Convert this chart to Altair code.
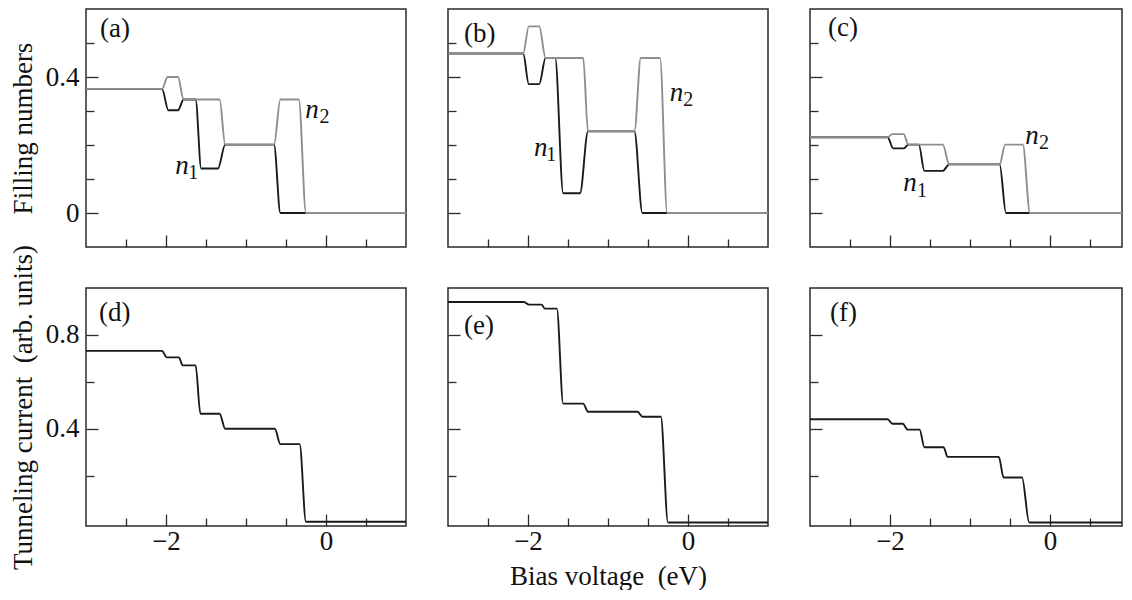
import altair as alt
import pandas as pd

FONT = "Liberation Serif"
BLACK = "#1a1a1a"
GRAY = "#8e8e8e"
FRAME = "#2a2a2a"

# ---- data (corner points of each stepped curve) ----
# panel (a)
XA_N1 = [-3, -2.05, -1.97, -1.85, -1.78, -1.63, -1.56, -1.35, -1.26, -0.65, -0.57, 1]
YA_N1 = [0.365, 0.365, 0.302, 0.302, 0.334, 0.334, 0.131, 0.131, 0.201, 0.201, 0.0, 0.0]
XA_N2 = [-3, -2.05, -1.98, -1.85, -1.78, -1.33, -1.26, -0.65, -0.57, -0.34, -0.25, 1]
YA_N2 = [0.365, 0.365, 0.400, 0.400, 0.334, 0.334, 0.201, 0.201, 0.334, 0.334, 0.0, 0.0]
# panel (b)
XB_N1 = [-3, -2.06, -1.99, -1.86, -1.78, -1.66, -1.56, -1.35, -1.25, -0.67, -0.57, 1]
YB_N1 = [0.469, 0.469, 0.379, 0.379, 0.456, 0.456, 0.058, 0.058, 0.240, 0.240, 0.0, 0.0]
XB_N2 = [-3, -2.06, -1.99, -1.86, -1.78, -1.31, -1.25, -0.67, -0.59, -0.35, -0.26, 1]
YB_N2 = [0.469, 0.469, 0.549, 0.549, 0.456, 0.456, 0.240, 0.240, 0.456, 0.456, 0.0, 0.0]
# panel (c)
XC_N1 = [-3, -2.03, -1.96, -1.83, -1.77, -1.64, -1.57, -1.34, -1.26, -0.63, -0.55, 1]
YC_N1 = [0.223, 0.223, 0.190, 0.190, 0.201, 0.201, 0.124, 0.124, 0.143, 0.143, 0.0, 0.0]
XC_N2 = [-3, -2.03, -1.97, -1.83, -1.77, -1.34, -1.26, -0.63, -0.56, -0.34, -0.25, 1]
YC_N2 = [0.223, 0.223, 0.232, 0.232, 0.201, 0.201, 0.143, 0.143, 0.201, 0.201, 0.0, 0.0]
# panels (d), (e), (f): tunneling current
XD = [-3, -2.05, -1.99, -1.84, -1.79, -1.63, -1.57, -1.33, -1.26, -0.64, -0.57, -0.33, -0.25, 1]
YD = [0.732, 0.732, 0.704, 0.704, 0.670, 0.670, 0.464, 0.464, 0.400, 0.400, 0.334, 0.334, 0.003, 0.003]
XE = [-3, -2.05, -1.99, -1.83, -1.79, -1.64, -1.56, -1.31, -1.25, -0.63, -0.57, -0.34, -0.25, 1]
YE = [0.940, 0.940, 0.929, 0.929, 0.912, 0.912, 0.507, 0.507, 0.472, 0.472, 0.451, 0.451, 0.0, 0.0]
XF = [-3, -2.03, -1.97, -1.84, -1.78, -1.63, -1.57, -1.33, -1.28, -0.64, -0.58, -0.35, -0.26, 1]
YF = [0.440, 0.440, 0.421, 0.421, 0.396, 0.396, 0.321, 0.321, 0.280, 0.280, 0.192, 0.192, 0.0, 0.0]

# tick values and labels
X_MAJOR = [-2, 0]
X_MINOR = [-2.5, -1.5, -1, -0.5, 0.5]
YT_MAJOR = [0, 0.4]
YT_MINOR = [0.1, 0.2, 0.3, 0.5]
YB_MAJOR = [0.4, 0.8]
YB_MINOR = [0.2, 0.6]
YT_DOMAIN = [-0.1, 0.6]
YB_DOMAIN = [-0.015, 1.0]

PANEL_LABELS = ["(a)", "(b)", "(c)", "(d)", "(e)", "(f)"]
Y_TITLE_TOP = "Filling numbers"
Y_TITLE_BOTTOM = "Tunneling current \u00a0(arb. units)"
X_TITLE = "Bias voltage \u00a0(eV)"

# n-label annotations: (letter x, letter y, subscript x, subscript y, subscript)
N_LABELS = {
    "a": [(-1.80, 0.138, -1.66, 0.117, "1"), (-0.174, 0.304, -0.02, 0.283, "2")],
    "b": [(-1.84, 0.192, -1.71, 0.170, "1"), (-0.145, 0.352, 0.004, 0.331, "2")],
    "c": [(-1.75, 0.089, -1.60, 0.065, "1"), (-0.224, 0.227, -0.075, 0.206, "2")],
}

W = 320
H = 238
FS = 27
SUB_FS = 20
LW = 1.9


def frame(xs, ys):
    return pd.DataFrame({"x": xs, "y": ys})


def panel(curves, xdomain, width, ydomain, ymaj, ymin, show_xlab, ytitle, xtitle,
          label, lab_x, lab_y, nlabels):
    xs = alt.Scale(domain=xdomain, nice=False, zero=False)
    ys = alt.Scale(domain=ydomain, nice=False, zero=False)
    common_axis = dict(domain=False, grid=False, tickColor=FRAME, tickWidth=1.3,
                       labelFont=FONT, labelFontSize=FS, labelColor="#111",
                       titleFont=FONT, titleFontSize=FS, titleFontWeight="normal",
                       titleColor="#111", format="~g")
    x_major = alt.Axis(orient="bottom", values=X_MAJOR, tickSize=12, offset=-12,
                       labels=show_xlab, labelPadding=2, title=xtitle,
                       titlePadding=9, **common_axis)
    x_minor = alt.Axis(orient="bottom", values=X_MINOR, tickSize=8, offset=-8,
                       labels=False, title=None, **common_axis)
    y_major = alt.Axis(orient="left", values=ymaj, tickSize=12, offset=-12,
                       labels=ytitle is not None, labelPadding=7, title=ytitle,
                       titlePadding=8, **common_axis)
    y_minor = alt.Axis(orient="left", values=ymin, tickSize=8, offset=-8,
                       labels=False, title=None, **common_axis)

    layers = []
    first = curves[0]
    # axis carrier layers (major ticks + minor ticks)
    layers.append(
        alt.Chart(first[0]).mark_line(interpolate="monotone", strokeWidth=LW,
                                      color=first[1], clip=True)
        .encode(x=alt.X("x:Q", scale=xs, axis=x_major),
                y=alt.Y("y:Q", scale=ys, axis=y_major))
    )
    layers.append(
        alt.Chart(first[0]).mark_line(interpolate="monotone", strokeWidth=LW,
                                      color=first[1], clip=True, strokeOpacity=0)
        .encode(x=alt.X("x:Q", scale=xs, axis=x_minor),
                y=alt.Y("y:Q", scale=ys, axis=y_minor))
    )
    for df, col in curves[1:]:
        layers.append(
            alt.Chart(df).mark_line(interpolate="monotone", strokeWidth=LW,
                                    color=col, clip=True)
            .encode(x=alt.X("x:Q", scale=xs, axis=None),
                    y=alt.Y("y:Q", scale=ys, axis=None))
        )
    # panel label
    layers.append(
        alt.Chart(pd.DataFrame({"t": [label]})).mark_text(
            font=FONT, fontSize=FS, align="left", baseline="middle", color="#111")
        .encode(x=alt.value(lab_x), y=alt.value(lab_y), text="t:N")
    )
    if nlabels:
        ndf = pd.DataFrame({"x": [n[0] for n in nlabels], "y": [n[1] for n in nlabels],
                            "t": ["n" for _ in nlabels]})
        sdf = pd.DataFrame({"x": [n[2] for n in nlabels], "y": [n[3] for n in nlabels],
                            "t": [n[4] for n in nlabels]})
        layers.append(
            alt.Chart(ndf).mark_text(font=FONT, fontSize=FS, fontStyle="italic",
                                     align="center", baseline="middle", color="#111")
            .encode(x=alt.X("x:Q", scale=xs, axis=None),
                    y=alt.Y("y:Q", scale=ys, axis=None), text="t:N")
        )
        layers.append(
            alt.Chart(sdf).mark_text(font=FONT, fontSize=SUB_FS,
                                     align="center", baseline="middle", color="#111")
            .encode(x=alt.X("x:Q", scale=xs, axis=None),
                    y=alt.Y("y:Q", scale=ys, axis=None), text="t:N")
        )
    return (alt.layer(*layers)
            .resolve_axis(x="independent", y="independent")
            .properties(width=width, height=H))


XD_FULL = [-3, 1]
WC = 312
XD_C = [-3, -3 + WC / 80.0]

pa = panel([(frame(XA_N1, YA_N1), BLACK), (frame(XA_N2, YA_N2), GRAY)], XD_FULL, W,
           YT_DOMAIN, YT_MAJOR, YT_MINOR, False, Y_TITLE_TOP, None,
           PANEL_LABELS[0], 14, 20, N_LABELS["a"])
pb = panel([(frame(XB_N1, YB_N1), BLACK), (frame(XB_N2, YB_N2), GRAY)], XD_FULL, W,
           YT_DOMAIN, YT_MAJOR, YT_MINOR, False, None, None,
           PANEL_LABELS[1], 16, 25, N_LABELS["b"])
pc = panel([(frame(XC_N1, YC_N1), BLACK), (frame(XC_N2, YC_N2), GRAY)], XD_C, WC,
           YT_DOMAIN, YT_MAJOR, YT_MINOR, False, None, None,
           PANEL_LABELS[2], 18, 19, N_LABELS["c"])
pd_ = panel([(frame(XD, YD), BLACK)], XD_FULL, W,
            YB_DOMAIN, YB_MAJOR, YB_MINOR, True, Y_TITLE_BOTTOM, None,
            PANEL_LABELS[3], 13, 25, None)
pe = panel([(frame(XE, YE), BLACK)], XD_FULL, W,
           YB_DOMAIN, YB_MAJOR, YB_MINOR, True, None, X_TITLE,
           PANEL_LABELS[4], 16, 38, None)
pf = panel([(frame(XF, YF), BLACK)], XD_C, WC,
           YB_DOMAIN, YB_MAJOR, YB_MINOR, True, None, None,
           PANEL_LABELS[5], 20, 25, None)

chart = (alt.concat(pa, pb, pc, pd_, pe, pf, columns=3,
                    spacing={"row": 41, "column": 42}, bounds="flush")
         .properties(padding={"left": 0, "top": 0, "right": 0, "bottom": 0},
                     background="white")
         .configure_view(stroke=FRAME, strokeWidth=1.5))

chart.save("out.html", embed_options={"renderer": "svg", "actions": False})
